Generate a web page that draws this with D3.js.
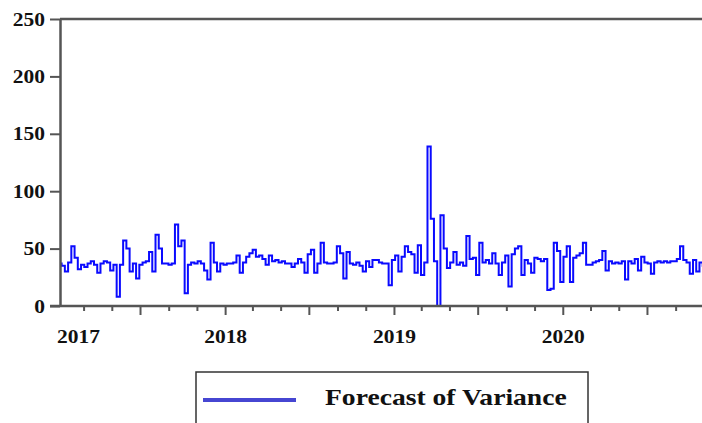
<!DOCTYPE html>
<html>
<head>
<meta charset="utf-8">
<script src="https://cdn.jsdelivr.net/npm/d3@7"></script>
<style>
  body { margin: 0; background: #fff; }
  text { font-family: "Liberation Serif", "Times New Roman", serif; font-weight: bold; fill: #111; }
</style>
</head>
<body>
<div id="chart"></div>
<script>
// weekly forecast of variance, first week starting 9 Jan 2017
var startDate = new Date(2017, 0, 9);
var variance = [
    37, 35, 30, 38, 52, 42, 32, 36, 34, 37,
    39, 36, 29, 37, 39, 38, 31, 36, 8, 36,
    57, 50, 30, 37, 24, 36, 38, 39, 47, 30,
    62, 50, 37, 37, 36, 37, 71, 52, 57, 11,
    36, 38, 37, 39, 37, 31, 23, 55, 38, 30,
    37, 36, 37, 37, 38, 44, 29, 38, 43, 46,
    49, 43, 44, 41, 36, 44, 39, 40, 38, 39,
    37, 37, 34, 37, 41, 38, 29, 45, 49, 29,
    37, 55, 38, 37, 37, 38, 52, 46, 24, 47,
    37, 36, 38, 35, 30, 39, 34, 40, 40,
    38, 37, 37, 18, 40, 44, 30, 43, 52, 47,
    45, 29, 53, 27, 38, 139, 76, 39, 0, 79,
    50, 33, 38, 47, 36, 38, 35, 61, 41, 42,
    27, 55, 38, 40, 37, 46, 37, 27, 38, 44,
    17, 45, 50, 52, 27, 40, 37, 29, 42, 41,
    39, 41, 14, 15, 55, 48, 21, 43, 52, 21,
    42, 44, 46, 55, 36, 36, 38, 39, 40, 48,
    31, 39, 37, 38, 37, 39, 23, 39, 37, 41,
    31, 43, 38, 37, 28, 38, 39, 38, 39, 38,
    39, 39, 41, 52, 40, 38, 28, 40, 30, 38,
    35, 37
];
var yTicks = [0, 50, 100, 150, 200, 250];
var legendLabel = "Forecast of Variance";

var outerWidth = 702;
var outerHeight = 423;
var margin = { left: 60, top: 19, right: 0, bottom: 117 };
var innerWidth  = outerWidth  - margin.left - margin.right;
var innerHeight = outerHeight - margin.top  - margin.bottom;

var data = variance.map(function(v, i) {
    return { date: d3.timeWeek.offset(startDate, i), value: v };
});

// the source picture is a little stretched sideways, so widen the text
function widen(sel, f) {
    sel.each(function() {
        var w = this.getComputedTextLength();
        d3.select(this).attr("textLength", w * f).attr("lengthAdjust", "spacingAndGlyphs");
    });
}

var svg = d3.select("#chart").append("svg")
    .attr("width",  outerWidth)
    .attr("height", outerHeight);

var g = svg.append("g")
    .attr("transform", "translate(" + margin.left + "," + margin.top + ")");

var xScale = d3.scaleTime()
    .domain([startDate, new Date(2020, 9, 28)])
    .range([0, innerWidth]);
var yScale = d3.scaleLinear().domain([0, 250]).range([innerHeight, 0]);

var axisColor = "#555";

svg.append("defs").append("clipPath").attr("id", "plot")
    .append("rect").attr("x", 0).attr("y", -1)
    .attr("width", innerWidth).attr("height", innerHeight + 2);

var line = d3.line()
    .x(function(d) { return xScale(d.date); })
    .y(function(d) { return yScale(d.value); })
    .curve(d3.curveStep);

g.append("path")
    .datum(data)
    .attr("clip-path", "url(#plot)")
    .attr("fill", "none")
    .attr("stroke", "#0a0aff")
    .attr("stroke-width", 2)
    .attr("d", line);

// y axis
var yAxisG = g.append("g")
    .call(d3.axisLeft(yScale).tickValues(yTicks).tickSize(10).tickSizeOuter(0).tickPadding(5))
    .attr("font-size", 19)
    .attr("font-family", "'Liberation Serif', serif");
yAxisG.select(".domain").attr("stroke", axisColor).attr("stroke-width", 2.5);
yAxisG.selectAll(".tick line").attr("stroke", axisColor).attr("stroke-width", 2);
yAxisG.selectAll(".tick text").attr("fill", "#111")
    .attr("dy", null).attr("y", 6)
    .call(widen, 1.13);

// top frame line
g.append("line")
    .attr("x1", 0).attr("x2", innerWidth)
    .attr("y1", yScale(250)).attr("y2", yScale(250))
    .attr("stroke", axisColor).attr("stroke-width", 2.5);

// x axis: bimonthly ticks, longer in January and July
var xAxisG = g.append("g")
    .attr("transform", "translate(0," + innerHeight + ")")
    .call(d3.axisBottom(xScale).ticks(d3.timeMonth.every(2)).tickSize(5).tickSizeOuter(0));
xAxisG.select(".domain").remove();
xAxisG.selectAll(".tick text").remove();
xAxisG.selectAll(".tick line")
    .attr("stroke", axisColor).attr("stroke-width", 2)
    .attr("y2", function(d) { return d.getMonth() % 6 === 0 ? 9 : 5; });

g.append("line")
    .attr("x1", -10).attr("x2", innerWidth)
    .attr("y1", innerHeight).attr("y2", innerHeight)
    .attr("stroke", axisColor).attr("stroke-width", 2.5);

// year labels
var yearG = g.append("g")
    .attr("transform", "translate(0," + innerHeight + ")")
    .call(d3.axisBottom(xScale).ticks(d3.timeYear.every(1)).tickSize(0)
        .tickFormat(d3.timeFormat("%Y")))
    .attr("font-size", 19)
    .attr("font-family", "'Liberation Serif', serif");
yearG.select(".domain").remove();
yearG.selectAll(".tick text").attr("fill", "#111")
    .attr("dy", null).attr("y", 37)
    .call(widen, 1.13);
// 2017 label sits just right of the axis
g.append("text")
    .attr("x", -3).attr("y", innerHeight + 37)
    .attr("font-size", 19)
    .text(d3.timeFormat("%Y")(startDate))
    .call(widen, 1.13);

// legend
var legendG = svg.append("g").attr("transform", "translate(196,372)");
legendG.append("rect")
    .attr("width", 392).attr("height", 70)
    .attr("fill", "#fff").attr("stroke", "#333").attr("stroke-width", 1.5);
legendG.append("line")
    .attr("x1", 7).attr("x2", 100).attr("y1", 28).attr("y2", 28)
    .attr("stroke", "#4646d2").attr("stroke-width", 4);
legendG.append("text")
    .attr("x", 129).attr("y", 33)
    .attr("font-size", 23)
    .text(legendLabel)
    .call(widen, 1.2);
</script>
</body>
</html>
